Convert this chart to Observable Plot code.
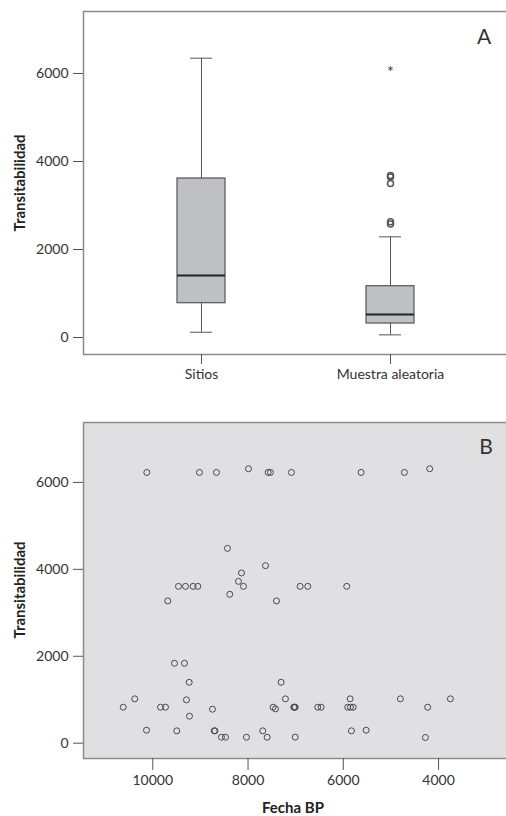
<!DOCTYPE html>
<html>
<head>
<meta charset="utf-8">
<script src="https://cdn.jsdelivr.net/npm/d3@7"></script>
<script src="https://cdn.jsdelivr.net/npm/@observablehq/plot@0.6"></script>
<style>
  html, body { margin: 0; padding: 0; background: #fff; overflow: hidden; }
  .panel { position: relative; width: 506px; overflow: hidden; }
  .panel svg { max-width: none !important; display: block; }
  .ytitle { position: absolute; font-family: Lato, sans-serif; font-weight: bold; font-size: 15px; line-height: 15px; color: #222;
            white-space: nowrap; transform: translate(-50%, -50%) rotate(-90deg); z-index: 2; }
  .xtitle { position: absolute; font-family: Lato, sans-serif; font-weight: bold; font-size: 15px; line-height: 14px; color: #222;
            white-space: nowrap; transform: translate(-50%, -50%); z-index: 2; }
  .letter { position: absolute; font-family: Lato, sans-serif; font-size: 21px; line-height: 22px; color: #333;
            transform: translate(-50%, -50%); z-index: 2; }
</style>
</head>
<body>
<div id="panelA" class="panel" style="height:400px">
  <div class="ytitle" style="left:19px; top:183px">Transitabilidad</div>
  <div class="letter" style="left:484px; top:36px">A</div>
</div>
<div id="panelB" class="panel" style="height:416px">
  <div class="ytitle" style="left:19px; top:190px">Transitabilidad</div>
  <div class="letter" style="left:486px; top:46px">B</div>
  <div class="xtitle" style="left:293px; top:407px">Fecha BP</div>
</div>
<script>
// ---- Panel A: box plot data ----
const groups = ["Sitios", "Muestra aleatoria"];
const boxLow = [120, 60];
const boxQ1 = [780, 318];
const boxMedian = [1409, 523];
const boxQ3 = [3614, 1166];
const boxHigh = [6348, 2288];
const outlierGroup = ["Muestra aleatoria", "Muestra aleatoria", "Muestra aleatoria", "Muestra aleatoria", "Muestra aleatoria"];
const outlierValue = [3680, 3650, 3500, 2630, 2580];
const extremeGroup = ["Muestra aleatoria"];
const extremeValue = [6136];
const yTicks = [0, 2000, 4000, 6000];

// ---- Panel B: scatter data ----
const fechaBP = [
  10126, 9020, 8663, 7991, 7578, 7530, 7089, 5626, 4717, 4186,
  8432, 7634, 8138, 8201, 8096, 8384, 9461, 9314, 9154, 9055, 9685, 7403, 6906, 6746, 5928,
  9545, 9335, 9236, 7305, 10378, 9293, 7215, 10621, 9838, 9733, 8747, 7473, 7424, 7040, 7025, 7010,
  9230, 10132, 9496, 8710, 8695, 8558, 8474, 8033, 7691, 7599, 7010,
  6537, 6465, 5857, 5907, 5850, 5793, 5829, 5520, 4801, 4228, 3751, 4276
];
const transitabilidad = [
  6230, 6230, 6230, 6315, 6230, 6230, 6230, 6230, 6230, 6315,
  4483, 4085, 3917, 3724, 3609, 3426, 3609, 3609, 3609, 3609, 3274, 3274, 3609, 3609, 3609,
  1839, 1839, 1402, 1402, 1021, 998, 1021, 828, 828, 828, 782, 828, 790, 828, 828, 828,
  621, 299, 285, 285, 285, 138, 138, 138, 285, 138, 140,
  828, 828, 1021, 828, 828, 828, 285, 299, 1021, 828, 1021, 131
];
const xTicksB = [10000, 8000, 6000, 4000];

const boxes = groups.map((g, i) => ({group: g, low: boxLow[i], q1: boxQ1[i], med: boxMedian[i], q3: boxQ3[i], high: boxHigh[i]}));
const outliers = outlierGroup.map((g, i) => ({group: g, value: outlierValue[i]}));
const extremes = extremeGroup.map((g, i) => ({group: g, value: extremeValue[i]}));
const points = fechaBP.map((f, i) => ({fecha: f, trans: transitabilidad[i]}));

const lineCol = "#555";
const style = {fontFamily: "Lato, sans-serif", fontSize: "14px", color: "#333", background: "transparent", maxWidth: "none"};

const chartA = Plot.plot({
  width: 520, height: 400,
  marginTop: 11, marginBottom: 46, marginLeft: 83, marginRight: 13,
  style,
  x: {domain: groups, paddingInner: 0.747, paddingOuter: 0.49, label: null},
  y: {domain: [-386, 7409], label: null},
  marks: [
    Plot.frame({stroke: "#8c8c8c", strokeWidth: 1.5}),
    Plot.axisY({ticks: yTicks, tickSize: 10, tickPadding: 5, stroke: lineCol, tickFormat: d => String(d), label: null}),
    Plot.axisX({tickSize: 10, tickPadding: 5, stroke: lineCol, label: null}),
    Plot.ruleX(boxes, {x: "group", y1: "low", y2: "q1", stroke: lineCol}),
    Plot.ruleX(boxes, {x: "group", y1: "q3", y2: "high", stroke: lineCol}),
    Plot.barY(boxes, {x: "group", y1: "q1", y2: "q3", fill: "#bfc0c4", stroke: lineCol, strokeWidth: 1.2}),
    Plot.tickY(boxes, {x: "group", y: "med", stroke: "#222", strokeWidth: 2}),
    Plot.tickY(boxes, {x: "group", y: "low", inset: 13, stroke: lineCol}),
    Plot.tickY(boxes, {x: "group", y: "high", inset: 13, stroke: lineCol}),
    Plot.dot(outliers, {x: "group", y: "value", r: 3, stroke: lineCol, fill: "none"}),
    Plot.text(extremes, {x: "group", y: "value", text: () => "*", fontSize: 16, dy: 4, fill: "#333"})
  ]
});
chartA.style.maxWidth = "none";
document.getElementById("panelA").appendChild(chartA);

const chartB = Plot.plot({
  width: 520, height: 416,
  marginTop: 22, marginBottom: 58, marginLeft: 83, marginRight: 10,
  style,
  x: {domain: [11455, 2489], label: null},
  y: {domain: [-352, 7379], label: null},
  marks: [
    Plot.frame({fill: "#e0e0e2", stroke: "#8c8c8c", strokeWidth: 1.5}),
    Plot.axisY({ticks: yTicks, tickSize: 10, tickPadding: 5, stroke: lineCol, tickFormat: d => String(d), label: null}),
    Plot.axisX({ticks: xTicksB, tickSize: 12, tickPadding: 5, stroke: lineCol, tickFormat: d => String(d), label: null}),
    Plot.dot(points, {x: "fecha", y: "trans", r: 3, stroke: "#4a4a4a", strokeWidth: 1, fill: "none"})
  ]
});
chartB.style.maxWidth = "none";
document.getElementById("panelB").appendChild(chartB);
</script>
</body>
</html>
